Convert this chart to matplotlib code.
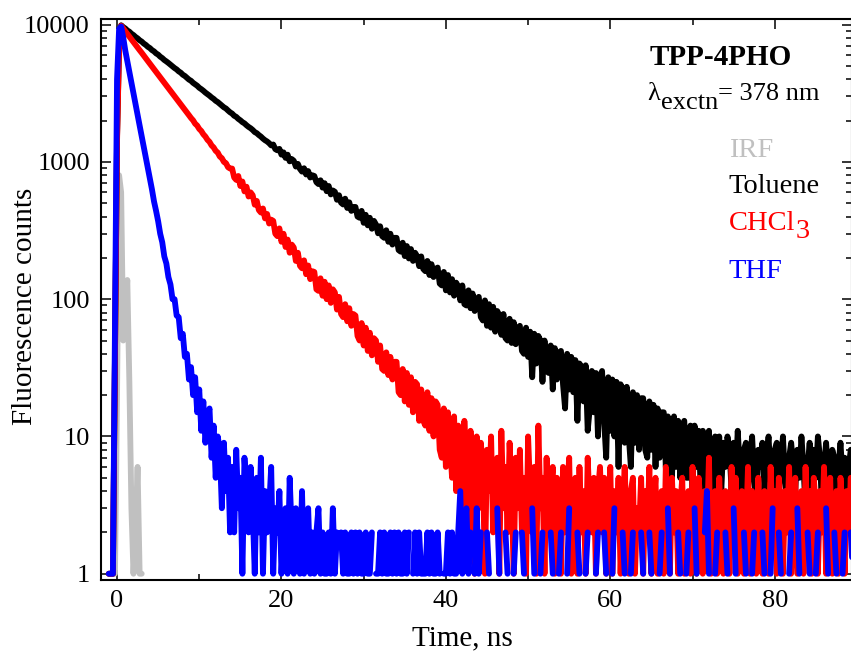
import numpy as np
import matplotlib
matplotlib.use('Agg')
import matplotlib.pyplot as plt
from matplotlib.ticker import LogLocator, NullFormatter, MultipleLocator

plt.rcParams['font.family'] = ['Liberation Serif', 'DejaVu Serif']

# TCSPC decay traces: counts per 0.25 ns channel, first channel at -1.0 ns
t_start = -1.0
t_step = 0.25

toluene = [
    1, 1, 1, 40, 1500, 7000, 9900, 9600, 9380, 9080, 8890, 8600, 8400, 8140, 7950, 7700, 7530, 7290, 7120, 6900,
    6750, 6530, 6390, 6180, 6050, 5850, 5710, 5530, 5400, 5260, 5110, 4960, 4830, 4720, 4570, 4470, 4320, 4230, 4100, 3980,
    3900, 3770, 3680, 3590, 3470, 3390, 3300, 3200, 3120, 3040, 2950, 2880, 2790, 2730, 2650, 2570, 2500, 2450, 2370, 2300,
    2250, 2170, 2130, 2060, 2010, 1950, 1910, 1850, 1800, 1760, 1710, 1650, 1620, 1570, 1530, 1480, 1440, 1410, 1370, 1320,
    1340, 1240, 1215, 1245, 1130, 1175, 1070, 1130, 1010, 1050, 1020, 925, 968, 890, 850, 900, 810, 858, 770, 800,
    790, 712, 690, 735, 650, 700, 612, 668, 580, 620, 606, 530, 572, 505, 490, 540, 462, 508, 440, 470,
    470, 400, 392, 440, 360, 412, 345, 392, 326, 372, 350, 302, 340, 288, 280, 318, 262, 300, 250, 280,
    280, 228, 222, 258, 206, 244, 198, 232, 190, 218, 206, 174, 205, 166, 160, 190, 150, 180, 145, 166,
    170, 130, 126, 158, 116, 150, 112, 140, 106, 132, 124, 98, 126, 92, 90, 116, 86, 110, 82, 100,
    104, 74, 70, 98, 64, 92, 62, 88, 58, 82, 76, 55, 78, 52, 50, 72, 48, 68, 47, 62,
    64, 42, 40, 62, 38, 58, 27, 56, 34, 54, 50, 25, 50, 30, 29, 46, 22, 44, 26, 41,
    42, 24, 16, 40, 22, 38, 21, 36, 13, 34, 32, 18, 33, 11, 16, 30, 15, 29, 10, 27,
    30, 13, 7, 27, 11, 26, 10, 25, 6, 24, 22, 9, 23, 10, 6, 21, 9, 20, 8, 19,
    19, 8, 7, 18, 8, 17, 6, 16, 7, 15, 15, 6, 14, 7, 5, 14, 6, 13, 5, 12,
    13, 5, 5, 12, 4, 12, 6, 11, 4, 11, 10, 4, 11, 5, 3, 10, 5, 10, 4, 9,
    6, 10, 8, 4, 9, 5, 11, 6, 3, 8, 9, 4, 7, 10, 5, 3, 8, 6, 9, 4,
    7, 10, 5, 3, 8, 9, 4, 6, 10, 5, 3, 7, 9, 6, 4, 8, 5, 10, 6, 3,
    6, 9, 4, 8, 5, 10, 7, 3, 6, 9, 5, 4, 8, 7, 3, 6, 9, 5, 7, 4,
    6, 8, 5,
]

chcl3 = [
    1, 1, 1, 35, 1400, 6800, 9820, 9380, 8970, 8580, 8180, 7830, 7480, 7140, 6820, 6520, 6240, 5950, 5690, 5440,
    5200, 4960, 4740, 4530, 4330, 4140, 3950, 3780, 3610, 3450, 3300, 3150, 3010, 2880, 2750, 2630, 2510, 2400, 2290, 2190,
    2090, 2010, 1900, 1840, 1740, 1680, 1590, 1530, 1450, 1400, 1320, 1275, 1205, 1170, 1095, 1065, 1000, 980, 915, 895,
    895, 770, 740, 790, 668, 720, 610, 660, 560, 600, 572, 488, 520, 446, 428, 458, 388, 418, 356, 380,
    372, 300, 288, 328, 262, 300, 240, 272, 218, 250, 238, 190, 218, 175, 168, 192, 152, 176, 140, 160,
    158, 118, 115, 142, 106, 134, 100, 126, 94, 118, 112, 84, 104, 78, 74, 92, 69, 86, 64, 78,
    76, 54, 50, 67, 46, 62, 42, 57, 39, 52, 50, 35, 46, 31, 30, 41, 28, 38, 26, 35,
    35, 21, 20, 31, 18, 29, 17, 27, 15, 25, 24, 13, 22, 13, 12, 21, 11, 19, 10, 18,
    17, 8, 7, 16, 6, 15, 9, 5, 14, 4, 12, 8, 3, 13, 6, 2, 11, 5, 1, 10,
    3, 9, 6, 1, 8, 4, 10, 2, 5, 7, 1, 11, 3, 6, 2, 9, 4, 1, 7, 3,
    8, 2, 5, 1, 10, 4, 2, 6, 1, 12, 3, 5, 1, 7, 2, 4, 6, 1, 5, 3,
    1, 6, 2, 4, 7, 1, 3, 5, 1, 6, 2, 4, 1, 7, 3, 2, 5, 1, 4, 6,
    2, 5, 1, 3, 6, 1, 4, 2, 5, 1, 3, 6, 2, 1, 4, 5, 1, 3, 2, 5,
    1, 4, 2, 6, 1, 3, 5, 1, 2, 4, 1, 6, 3, 1, 5, 2, 4, 1, 3, 5,
    1, 3, 4, 1, 6, 2, 1, 5, 3, 1, 4, 2, 7, 1, 3, 4, 1, 5, 2, 1,
    4, 3, 1, 6, 2, 5, 1, 3, 4, 1, 2, 6, 1, 4, 3, 1, 5, 2, 1, 4,
    3, 1, 6, 2, 4, 1, 5, 3, 1, 4, 2, 6, 1, 3, 5, 1, 2, 4, 1, 6,
    2, 4, 1, 5, 3, 1, 4, 2, 6, 1, 3, 5, 1, 2, 4, 1, 5, 3, 1, 4,
    2, 5, 1,
]

# zero counts leave gaps on the log axis
thf = [
    1, 1, 1, 60, 4000, 9300, 9700, 8100, 6500, 5420, 4530, 3780, 3160, 2640, 2200, 1840, 1540, 1280, 1070, 895,
    760, 630, 515, 440, 370, 300, 260, 205, 182, 145, 128, 100, 100, 76, 74, 52, 56, 38, 40, 26,
    32, 20, 27, 15, 22, 11, 18, 9, 14, 16, 7, 12, 5, 10, 8, 3, 9, 4, 7, 2,
    6, 2, 8, 3, 5, 1, 7, 4, 2, 6, 3, 1, 5, 2, 7, 1, 4, 2, 3, 6,
    1, 3, 2, 4, 1, 2, 3, 1, 5, 2, 1, 3, 2, 1, 4, 1, 2, 3, 1, 2,
    1, 2, 3, 1, 2, 1, 1, 2, 1, 3, 1, 2, 0, 2, 1, 2, 1, 1, 2, 1,
    2, 1, 2, 1, 1, 2, 1, 1, 2, 0, 1, 1, 2, 1, 2, 1, 1, 2, 1, 2,
    1, 2, 1, 1, 2, 1, 2, 0, 1, 2, 1, 2, 1, 1, 1, 2, 1, 2, 1, 1,
    2, 1, 0, 1, 1, 2, 1, 2, 1, 1, 2, 4, 1, 2, 3, 1, 2, 0, 1, 3,
    1, 2, 0, 0, 2, 1, 0, 0, 0, 3, 1, 0, 0, 2, 1, 0, 0, 1, 2, 0,
    0, 2, 1, 0, 0, 0, 3, 1, 0, 0, 1, 2, 0, 0, 0, 2, 1, 0, 0, 1,
    2, 0, 0, 1, 3, 0, 0, 0, 2, 1, 0, 0, 1, 2, 0, 0, 0, 1, 2, 0,
    0, 2, 1, 0, 0, 1, 3, 0, 0, 0, 2, 1, 0, 0, 1, 2, 0, 0, 0, 2,
    1, 0, 0, 2, 1, 0, 0, 0, 1, 2, 0, 0, 3, 1, 0, 0, 0, 2, 1, 0,
    0, 1, 2, 0, 0, 3, 1, 0, 0, 0, 2, 4, 1, 0, 0, 1, 2, 0, 0, 0,
    2, 1, 0, 0, 3, 1, 0, 0, 0, 2, 1, 0, 0, 1, 2, 0, 0, 0, 2, 1,
    0, 0, 1, 3, 0, 0, 2, 1, 0, 0, 0, 1, 2, 0, 0, 3, 1, 0, 0, 0,
    2, 1, 0, 0, 1, 2, 0, 0, 0, 3, 1, 0, 0, 2, 1, 0, 0, 1, 2, 0,
    0, 2, 1,
]

irf_time = [-0.5, -0.25, 0.0, 0.25, 0.5, 0.75, 1.0, 1.25, 1.5, 1.75, 2.0, 2.25, 2.5, 2.75, 3.0]
irf = [1, 1, 20, 800, 600, 50, 80, 138, 25, 3, 1, 2, 6, 1, 1]


def channel_times(counts):
    return t_start + t_step * np.arange(len(counts))


fig = plt.figure(figsize=(8.51, 6.60), dpi=100)
ax = fig.add_axes([101 / 851, 80 / 660, 751 / 851, 561 / 660])

line_kw = dict(lw=4.2, solid_capstyle='round', solid_joinstyle='round')
ax.plot(irf_time, irf, color='#c0c0c0', **line_kw)
ax.plot(channel_times(toluene), toluene, color='black', **line_kw)
ax.plot(channel_times(chcl3), chcl3, color='#ff0000', **line_kw)
ax.plot(channel_times(thf), np.array(thf, dtype=float), color='#0000ff', **line_kw)

ax.set_yscale('log', nonpositive='mask')
ax.set_ylim(0.9, 11000)
ax.set_xlim(-1.95, 89.4)

ax.set_yticks([1, 10, 100, 1000, 10000])
ax.set_yticklabels(['1', '10', '100', '1000', '10000'])
ax.yaxis.set_minor_locator(LogLocator(base=10, subs=np.arange(2, 10)))
ax.yaxis.set_minor_formatter(NullFormatter())
ax.xaxis.set_major_locator(MultipleLocator(20))
ax.xaxis.set_minor_locator(MultipleLocator(10))

ax.tick_params(which='both', direction='in', top=True, right=True, width=1.1, labelsize=19)
ax.tick_params(which='major', length=7.5)
ax.tick_params(which='minor', length=4)
ax.tick_params(axis='y', pad=8)
ax.tick_params(axis='x', pad=7)
for s in ax.spines.values():
    s.set_linewidth(1.5)

ax.set_xlabel('Time, ns', fontsize=21)
ax.set_ylabel('Fluorescence counts', fontsize=21)
ax.xaxis.set_label_coords(0.481, -0.080)
ax.yaxis.set_label_coords(-0.084, 0.487)

ax.text(0.731, 0.918, 'TPP-4PHO', transform=ax.transAxes, fontsize=21,
        fontweight='bold', va='baseline')
lam = ax.text(0.728, 0.856, 'λ', transform=ax.transAxes, fontsize=19, va='baseline')
sub = ax.annotate('exctn', xy=(1, 0), xycoords=lam, xytext=(0, -6.5),
                  textcoords='offset points', fontsize=19, va='bottom')
ax.annotate('= 378 nm', xy=(1, 0), xycoords=sub, xytext=(0, 6.5),
            textcoords='offset points', fontsize=19, va='bottom')

ax.text(0.836, 0.754, 'IRF', transform=ax.transAxes, fontsize=20.5,
        color='#c0c0c0', va='baseline')
ax.text(0.836, 0.690, 'Toluene', transform=ax.transAxes, fontsize=20.5,
        color='black', va='baseline')
chcl = ax.text(0.836, 0.624, 'CHCl', transform=ax.transAxes, fontsize=20.5,
               color='#ff0000', va='baseline')
ax.annotate('3', xy=(1, 0), xycoords=chcl, xytext=(0, -6),
            textcoords='offset points', fontsize=20.5, color='#ff0000', va='bottom')
ax.text(0.836, 0.538, 'THF', transform=ax.transAxes, fontsize=20.5,
        color='#0000ff', va='baseline')

fig.savefig('out.png', dpi=100)
